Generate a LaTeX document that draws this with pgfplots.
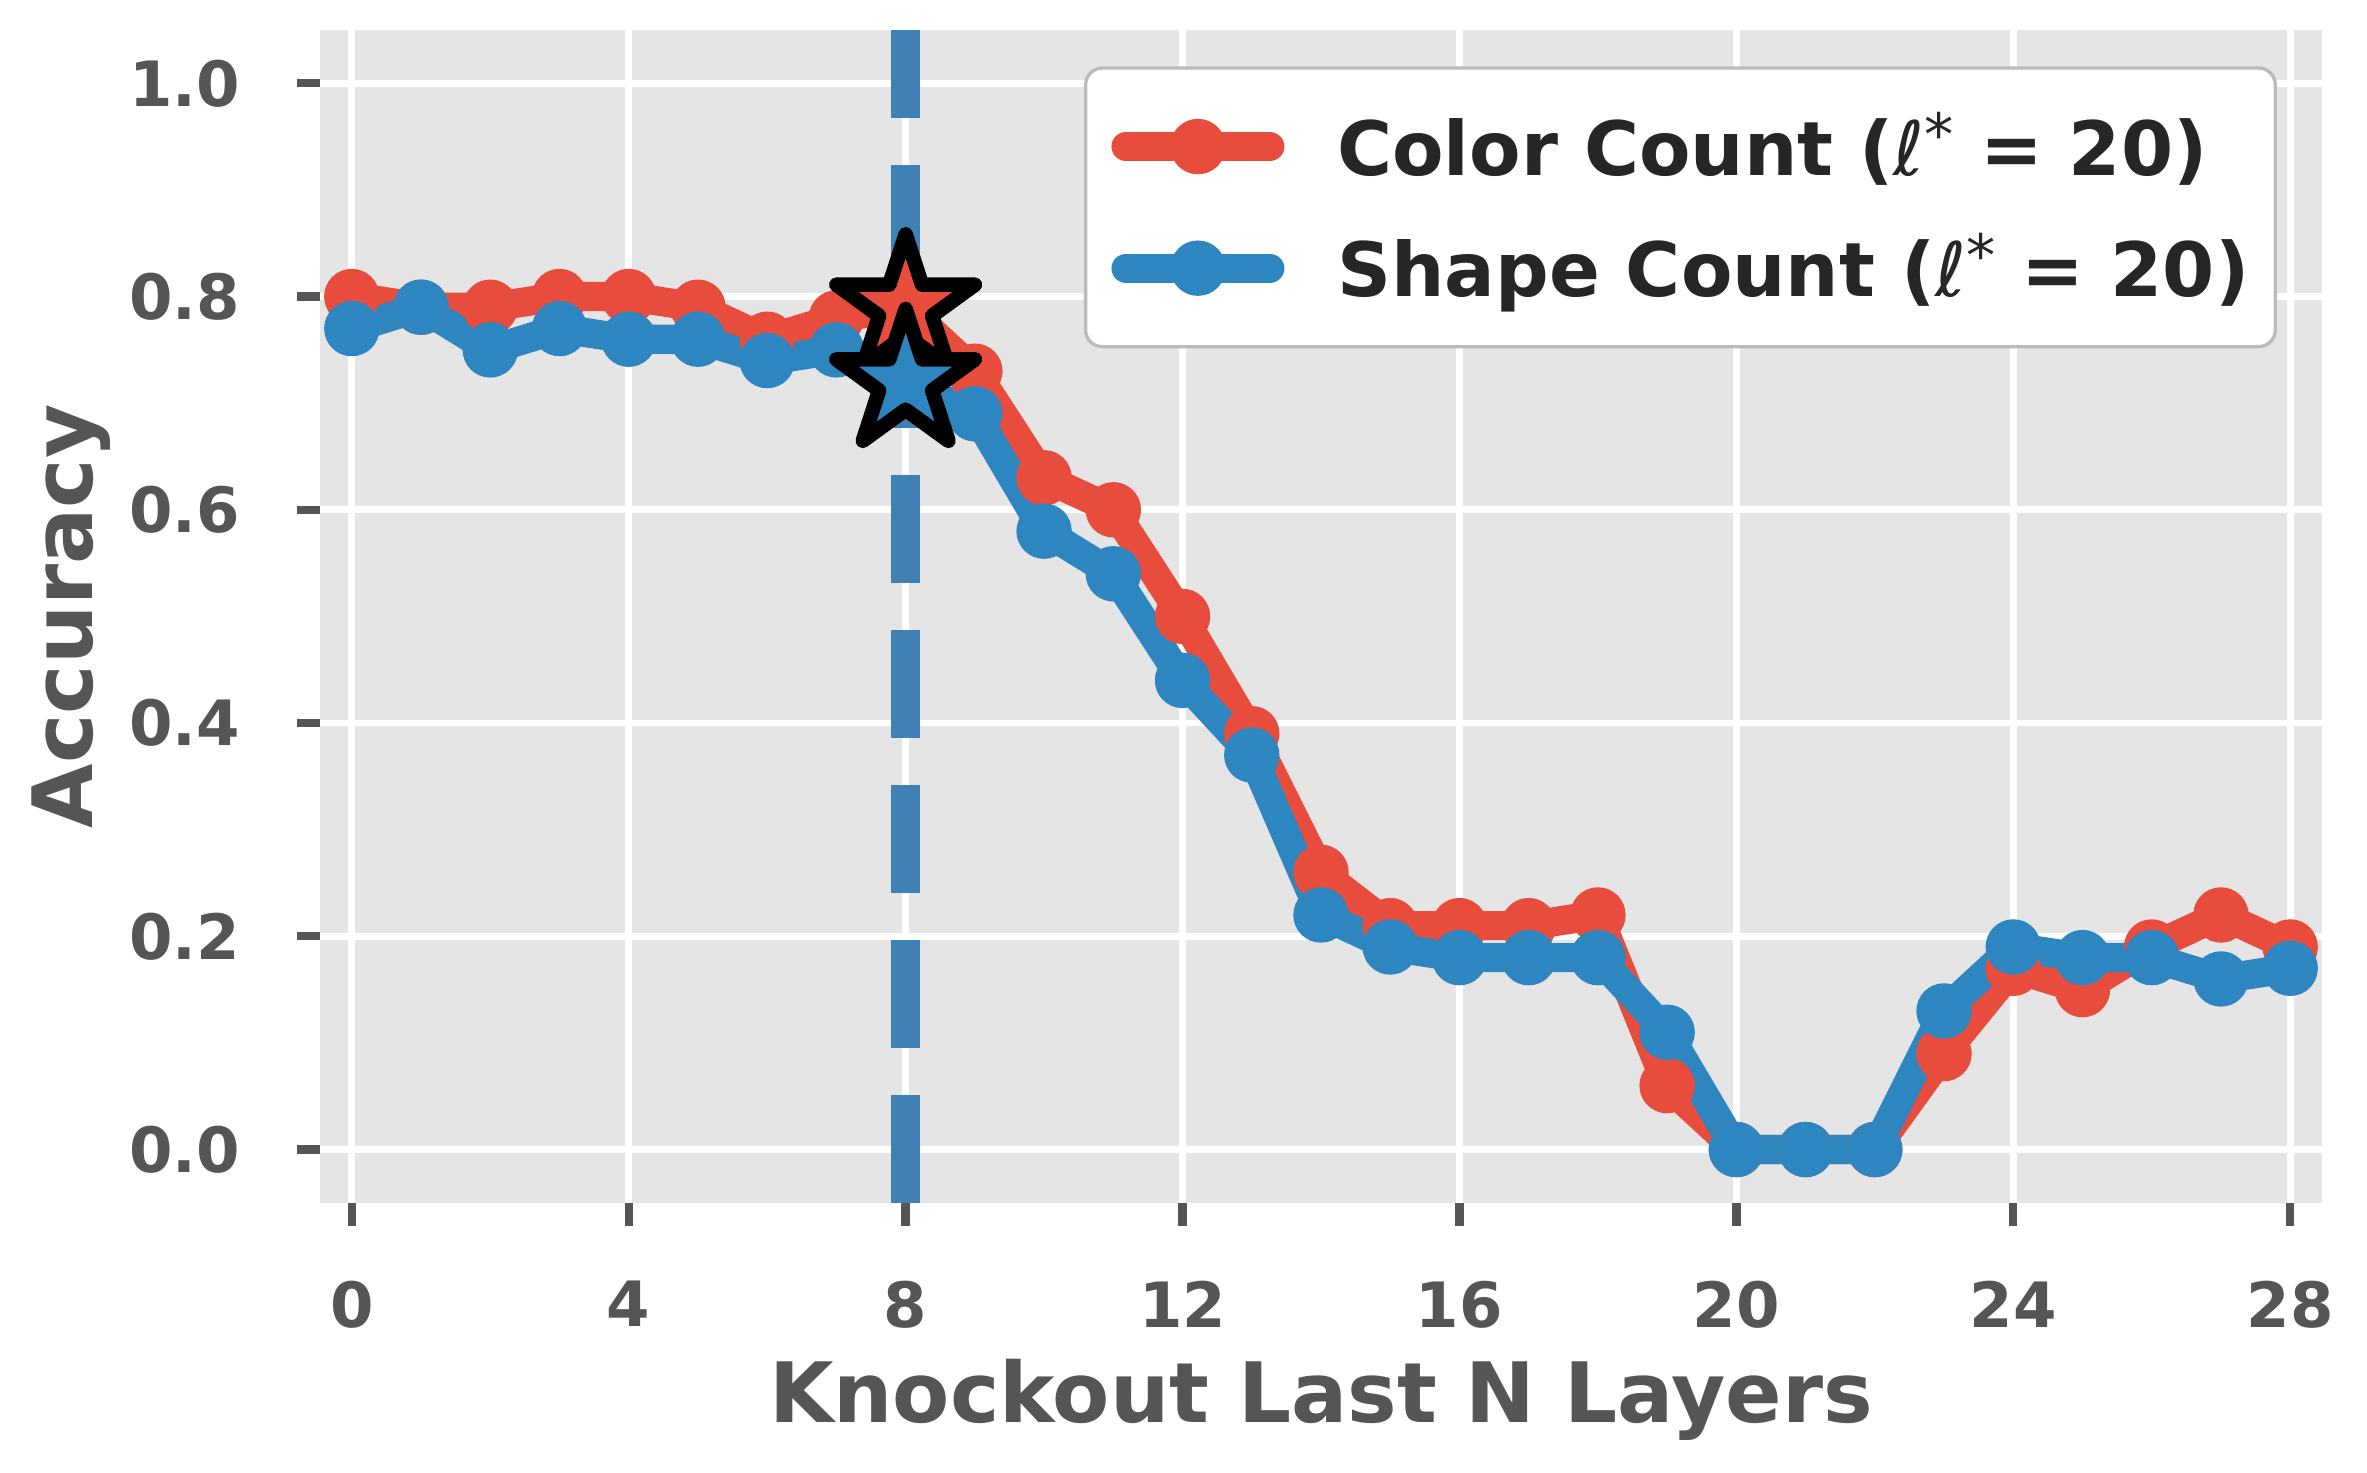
\documentclass[border=0pt]{standalone}
\usepackage{fontspec}
\setmainfont{DejaVu Sans}
\usepackage{pgfplots}
\pgfplotsset{compat=1.18}
\definecolor{cred}{HTML}{E74C3C}
\definecolor{cblue}{HTML}{2E86C1}
\definecolor{vline}{HTML}{3F80B5}
\definecolor{bggray}{HTML}{E5E5E5}
\definecolor{tgray}{HTML}{555555}
\definecolor{ltext}{HTML}{262626}
\definecolor{lframe}{HTML}{BBBBBB}
\pgfdeclareplotmark{fstar}{%
  \pgfpathmoveto{\pgfpointpolar{90}{\pgfplotmarksize}}%
  \pgfpathlineto{\pgfpointpolar{126}{0.381966\pgfplotmarksize}}%
  \pgfpathlineto{\pgfpointpolar{162}{\pgfplotmarksize}}%
  \pgfpathlineto{\pgfpointpolar{198}{0.381966\pgfplotmarksize}}%
  \pgfpathlineto{\pgfpointpolar{234}{\pgfplotmarksize}}%
  \pgfpathlineto{\pgfpointpolar{270}{0.381966\pgfplotmarksize}}%
  \pgfpathlineto{\pgfpointpolar{306}{\pgfplotmarksize}}%
  \pgfpathlineto{\pgfpointpolar{342}{0.381966\pgfplotmarksize}}%
  \pgfpathlineto{\pgfpointpolar{18}{\pgfplotmarksize}}%
  \pgfpathlineto{\pgfpointpolar{54}{0.381966\pgfplotmarksize}}%
  \pgfpathclose
  \pgfusepathqfillstroke
}
\newcommand{\lstar}{{\mdseries\itshape ℓ}\raisebox{4.8pt}{\fontsize{14}{14}\selectfont\mdseries\upshape *}}
\begin{document}
\begin{tikzpicture}
\begin{axis}[
  name=ax,
  scale only axis, width=480.5pt, height=281.5pt,
  xmin=-0.46, xmax=28.46, ymin=-0.05, ymax=1.05,
  axis background/.style={fill=bggray},
  axis line style={draw=none},
  grid=major, major grid style={white, line width=1.6pt},
  xtick={0,4,8,12,16,20,24,28}, xticklabels={0,4,8,12,16,20,24,28},
  ytick={0,0.2,0.4,0.6,0.8,1.0}, yticklabels={0.0,0.2,0.4,0.6,0.8,1.0},
  xtick pos=lower, ytick pos=left, tick align=outside,
  major tick length=5.5pt,
  major tick style={tgray, line width=2pt},
  ticklabel style={font=\fontsize{15}{15}\selectfont\bfseries, text=tgray, inner sep=0pt},
  xticklabel style={anchor=north, yshift=-13pt},
  yticklabel style={anchor=east, xshift=-13.5pt},
  xlabel={Knockout Last N Layers}, ylabel={Accuracy},
  every axis x label/.style={at={(axis description cs:0.5,0)}, anchor=base, yshift=-52.8pt, font=\fontsize{20}{20}\selectfont\bfseries, text=tgray, inner sep=0pt},
  every axis y label/.style={at={(axis description cs:0,0.5)}, xshift=-54.5pt, rotate=90, anchor=base, font=\fontsize{20}{20}\selectfont\bfseries, text=tgray, inner sep=0pt},
  legend style={
    at={(0.3816,0.969)}, anchor=north west,
    draw=lframe, line width=0.8pt, fill=white, rounded corners=4pt,
    inner xsep=6.2pt, inner ysep=10.5pt,
    row sep=12.5pt,
    font=\fontsize{18}{18}\selectfont\bfseries,
    text=ltext,
    nodes={inner sep=0pt},
    /tikz/every odd column/.append style={column sep=12.7pt},
  },
  legend cell align=left,
  legend image code/.code={
    \draw[mark repeat=2,mark phase=2,#1] plot coordinates {(0pt,0pt) (17.25pt,0pt) (34.5pt,0pt)};
  },
]
\addplot[vline, line width=7pt, dash pattern=on 26pt off 11.2pt, forget plot] coordinates {(8,-0.05) (8,1.05)};
\addplot[cred, line width=7pt, line join=round, line cap=round, mark=*, mark size=6.5pt, mark options={solid, line width=0.3pt}] coordinates {
(0,0.80) (1,0.79) (2,0.79) (3,0.80) (4,0.80) (5,0.79) (6,0.76) (7,0.78) (8,0.79) (9,0.73)
(10,0.63) (11,0.60) (12,0.50) (13,0.39) (14,0.26) (15,0.21) (16,0.21) (17,0.21) (18,0.22) (19,0.06)
(20,0) (21,0) (22,0) (23,0.09) (24,0.17) (25,0.15) (26,0.19) (27,0.22) (28,0.19)};
\addplot[cblue, line width=7pt, line join=round, line cap=round, mark=*, mark size=6.5pt, mark options={solid, line width=0.3pt}] coordinates {
(0,0.77) (1,0.79) (2,0.75) (3,0.77) (4,0.76) (5,0.76) (6,0.74) (7,0.75) (8,0.72) (9,0.69)
(10,0.58) (11,0.54) (12,0.44) (13,0.37) (14,0.22) (15,0.19) (16,0.18) (17,0.18) (18,0.18) (19,0.11)
(20,0) (21,0) (22,0) (23,0.13) (24,0.19) (25,0.18) (26,0.18) (27,0.16) (28,0.17)};
\addplot[forget plot, only marks, mark=fstar, mark size=17.5pt, mark options={fill=cred, draw=black, line width=3.5pt, line join=round}] coordinates {(8,0.79)};
\addplot[forget plot, only marks, mark=fstar, mark size=17.5pt, mark options={fill=cblue, draw=black, line width=3.5pt, line join=round}] coordinates {(8,0.72)};
\legend{Color Count (\lstar\ = 20), Shape Count (\lstar\ = 20)}
\end{axis}
\pgfresetboundingbox
\path[use as bounding box] ([xshift=-76.8pt,yshift=-64.6pt]ax.south west) rectangle ([xshift=10.8pt,yshift=7.2pt]ax.north east);
\end{tikzpicture}
\end{document}
